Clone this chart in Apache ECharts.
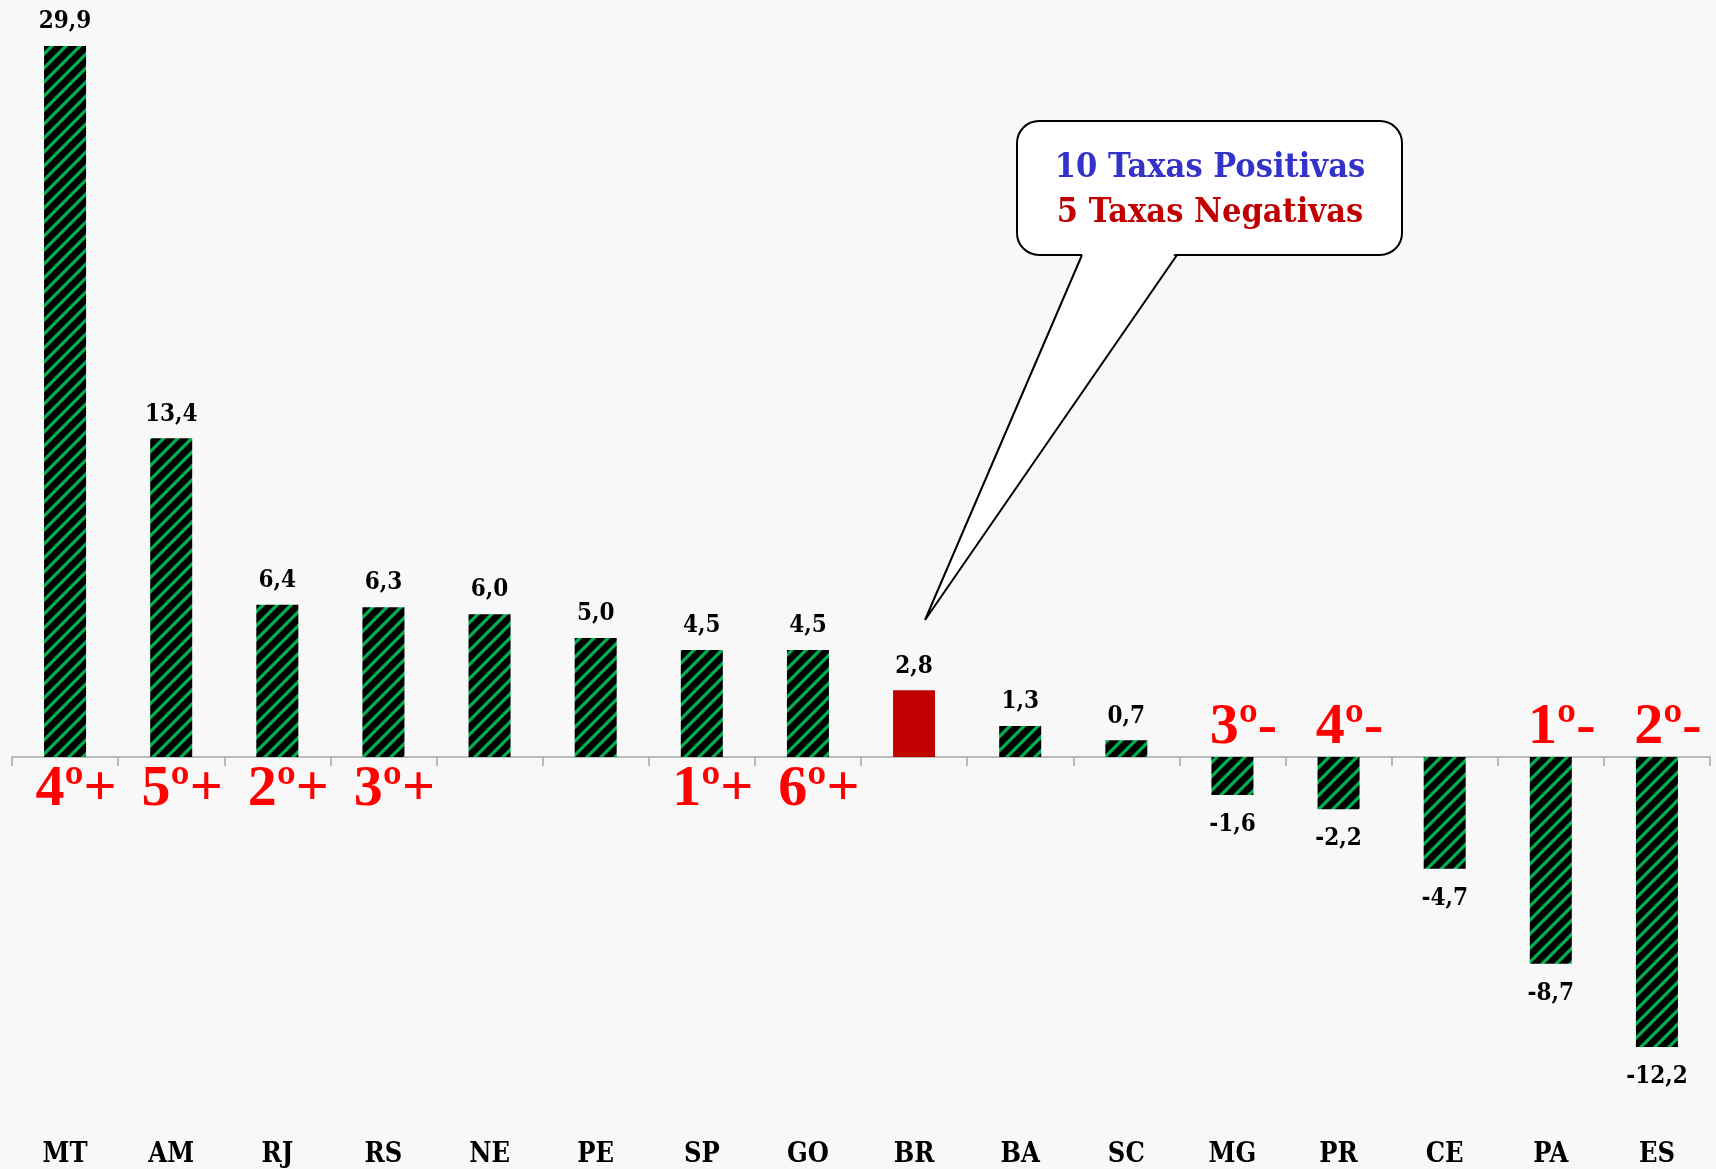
<!DOCTYPE html>
<html>
<head>
<meta charset="utf-8">
<script src="https://cdn.jsdelivr.net/npm/echarts@6/dist/echarts.min.js"></script>
<style>
  html, body { margin: 0; padding: 0; background: #F8F8F8; }
  #main { width: 1716px; height: 1169px; }
</style>
</head>
<body>
<div id="main"></div>
<script>
const states = ['MT', 'AM', 'RJ', 'RS', 'NE', 'PE', 'SP', 'GO', 'BR', 'BA', 'SC', 'MG', 'PR', 'CE', 'PA', 'ES'];
const rates = [29.9, 13.4, 6.4, 6.3, 6.0, 5.0, 4.5, 4.5, 2.8, 1.3, 0.7, -1.6, -2.2, -4.7, -8.7, -12.2];
const ranks = ['4º+', '5º+', '2º+', '3º+', '', '', '1º+', '6º+', '', '', '', '3º-', '4º-', '', '1º-', '2º-'];
const highlight = 'BR';
const calloutLines = ['10 Taxas Positivas', '5 Taxas Negativas'];

const serif = "'DejaVu Serif Condensed', 'DejaVu Serif', serif";

// hatch: black with green diagonal stripes
function makeHatch() {
    const s = 14;
    const c = document.createElement('canvas');
    c.width = s; c.height = s;
    const ctx = c.getContext('2d');
    ctx.fillStyle = '#000';
    ctx.fillRect(0, 0, s, s);
    ctx.strokeStyle = '#00B050';
    ctx.lineWidth = 3.2;
    ctx.beginPath();
    ctx.moveTo(-s, 2 * s); ctx.lineTo(2 * s, -s);
    ctx.moveTo(-s, s); ctx.lineTo(s, -s);
    ctx.moveTo(0, 2 * s); ctx.lineTo(2 * s, 0);
    ctx.stroke();
    return c;
}
const hatch = { image: makeHatch(), repeat: 'repeat' };

const fmt = v => v.toFixed(1).replace('.', ',');

const barData = rates.map((v, i) => ({
    value: v,
    itemStyle: { color: states[i] === highlight ? '#C00000' : hatch },
    label: { position: v < 0 ? 'bottom' : 'top', distance: v < 0 ? 18 : 12 }
}));

const rankData = ranks.map((r, i) => ({
    value: [states[i], 0],
    label: { offset: [11, rates[i] < 0 ? -29 : 33] }
}));

const myChart = echarts.init(document.getElementById('main'));

const option = {
    backgroundColor: '#F8F8F8',
    animation: false,
    grid: { left: 12, right: 6, top: 46, bottom: 122, containLabel: false },
    xAxis: [
        {
            type: 'category',
            data: states,
            axisLine: { onZero: true, lineStyle: { color: '#A6A6A6', width: 1.5 } },
            axisTick: { show: true, length: 9, lineStyle: { color: '#A6A6A6', width: 1.5 } },
            axisLabel: { show: false }
        },
        {
            type: 'category',
            data: states,
            position: 'bottom',
            axisLine: { show: false, onZero: false },
            axisTick: { show: false },
            axisLabel: {
                margin: 94,
                color: '#000',
                fontFamily: serif,
                fontWeight: 'bold',
                fontSize: 27
            }
        }
    ],
    yAxis: {
        type: 'value',
        min: -12.2,
        max: 29.9,
        show: false,
        splitLine: { show: false }
    },
    series: [
        {
            type: 'bar',
            xAxisIndex: 0,
            barWidth: 42,
            data: barData,
            label: {
                show: true,
                color: '#000',
                fontFamily: serif,
                fontWeight: 'bold',
                fontSize: 24,
                formatter: p => fmt(p.value)
            }
        },
        {
            type: 'scatter',
            xAxisIndex: 0,
            symbolSize: 1,
            itemStyle: { color: 'rgba(0,0,0,0)', opacity: 1 },
            data: rankData,
            label: {
                show: true,
                position: 'inside',
                color: '#FF0000',
                fontFamily: "'Liberation Serif', 'Times New Roman', serif",
                fontWeight: 'bold',
                fontSize: 58,
                formatter: p => ranks[p.dataIndex]
            },
            z: 5
        }
    ],
    graphic: [
        {
            type: 'rect',
            shape: { x: 1017, y: 121, width: 385, height: 134, r: 22 },
            style: { fill: '#FFFFFF', stroke: '#000', lineWidth: 2 },
            z: 10
        },
        {
            type: 'polygon',
            shape: { points: [[1083, 252], [925, 620], [1176, 252]] },
            style: { fill: '#FFFFFF', stroke: null },
            z: 11
        },
        {
            type: 'polyline',
            shape: { points: [[1082, 255], [925, 620], [1177, 255]] },
            style: { fill: null, stroke: '#000', lineWidth: 2 },
            z: 12
        },
        {
            type: 'text',
            x: 1210, y: 168,
            style: {
                text: calloutLines[0], fill: '#3333CC', align: 'center', verticalAlign: 'middle',
                font: "bold 34px " + serif
            },
            z: 13
        },
        {
            type: 'text',
            x: 1210, y: 213,
            style: {
                text: calloutLines[1], fill: '#C00000', align: 'center', verticalAlign: 'middle',
                font: "bold 34px " + serif
            },
            z: 13
        }
    ]
};

myChart.setOption(option);
</script>
</body>
</html>
